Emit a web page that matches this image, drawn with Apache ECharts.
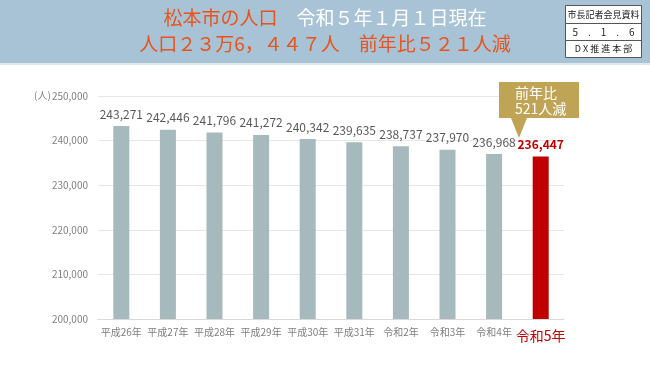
<!DOCTYPE html>
<html><head><meta charset="utf-8">
<script src="https://cdn.jsdelivr.net/npm/echarts@6/dist/echarts.min.js"></script>
<style>html,body{margin:0;padding:0;background:#fff}#c{width:650px;height:365px}</style>
</head><body><div id="c"></div>
<script>
const categories = ['平成26年','平成27年','平成28年','平成29年','平成30年','平成31年','令和2年','令和3年','令和4年','令和5年'];
const population = [243271,242446,241796,241272,240342,239635,238737,237970,236968,236447];
const yTicks = {min:200000, max:250000, interval:10000};
const FONT = '"Noto Sans CJK JP","Noto Sans",sans-serif';

const chart = echarts.init(document.getElementById('c'));
const last = population.length - 1;
chart.setOption({
  animation:false,
  textStyle:{fontFamily:FONT},
  grid:{left:98,right:86,top:96,bottom:46},
  xAxis:{type:'category',data:categories,
    axisLine:{lineStyle:{color:'#d9d9d9'}},axisTick:{show:false},
    axisLabel:{interval:0,color:'#7f7f7f',fontSize:10,margin:8,
      formatter:(v,i)=> i===last ? '{r|'+v+'}' : v,
      rich:{r:{color:'#c00000',fontSize:14,fontFamily:FONT,padding:[2,0,0,0]}}}},
  yAxis:{type:'value',min:yTicks.min,max:yTicks.max,interval:yTicks.interval,
    axisLine:{show:false},axisTick:{show:false},
    splitLine:{lineStyle:{color:'#e6e6e6'}},
    axisLabel:{color:'#7f7f7f',fontSize:10,margin:10,
      formatter:v=>v.toLocaleString('en-US')}},
  series:[{type:'bar',barWidth:16,
    data:population.map((v,i)=>({value:v,itemStyle:{color:i===last?'#c00000':'#a6b9bc'},
      label:i===last?{color:'#c00000',fontWeight:'bold',fontSize:12}:{}})),
    label:{show:true,position:'top',distance:6,color:'#595959',fontSize:12,
      formatter:p=>p.value.toLocaleString('en-US')}}],
  graphic:[
    {type:'rect',z:100,left:0,top:0,shape:{width:650,height:63},style:{fill:'#a8c3d5'}},
    {type:'rect',z:100,left:0,top:63,shape:{width:650,height:2},style:{fill:'#dce7ee'}},
    {type:'text',z:101,left:'center',top:8,style:{
      text:'{o|松本市の人口}{w|　令和５年１月１日現在}',
      rich:{o:{fill:'#e8541e',fontSize:19,fontFamily:FONT},w:{fill:'#ffffff',fontSize:19,fontFamily:FONT}}}},
    {type:'text',z:101,left:'center',top:34,style:{text:'人口２３万6，４４７人　前年比５２１人減',
      fill:'#e8541e',fontSize:19,fontFamily:FONT}},
    {type:'group',left:563,top:5,children:[
      {type:'rect',z:101,shape:{x:0,y:0,width:76,height:52},style:{fill:'#fff',stroke:'#555',lineWidth:1}},
      {type:'line',z:102,shape:{x1:0,y1:18,x2:76,y2:18},style:{stroke:'#555',lineWidth:1}},
      {type:'line',z:102,shape:{x1:0,y1:35,x2:76,y2:35},style:{stroke:'#555',lineWidth:1}},
      {type:'text',z:102,x:38,y:9,style:{text:'市長記者会見資料',fill:'#222',fontSize:9,fontFamily:FONT,align:'center',verticalAlign:'middle'}},
      {type:'text',z:102,x:38,y:26.5,style:{text:'5　.　1　.　6',fill:'#222',fontSize:10,fontFamily:FONT,align:'center',verticalAlign:'middle'}},
      {type:'text',z:102,x:38,y:43.5,style:{text:'D X 推 進 本 部',fill:'#222',fontSize:9,fontFamily:FONT,align:'center',verticalAlign:'middle'}}
    ]},
    {type:'text',z:101,left:34,top:90,style:{text:'(人)',fill:'#7f7f7f',fontSize:10,fontFamily:FONT}},
    {type:'polygon',z:101,left:499,top:82,shape:{points:[[0,0],[80,0],[80,36],[28,36],[20,56],[12,36],[0,36]]},style:{fill:'#c0a456'}},
    {type:'text',z:102,left:515,top:85,style:{text:'前年比\n521人減',fill:'#fff',fontSize:14,lineHeight:16,fontFamily:FONT}}
  ]
});
</script></body></html>
